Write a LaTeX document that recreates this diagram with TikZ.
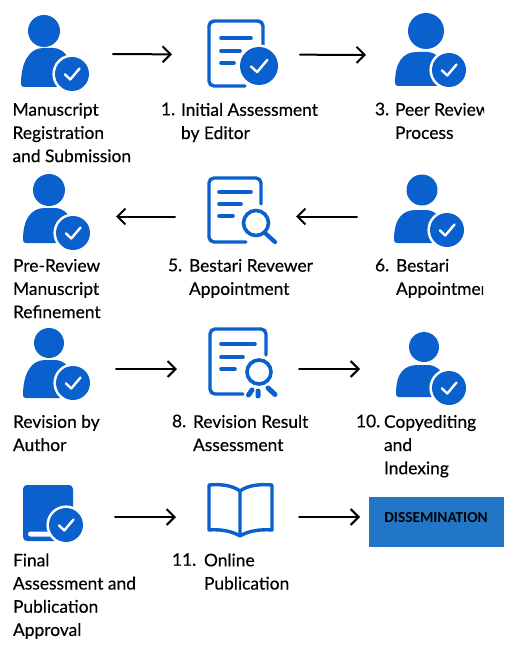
\documentclass[tikz,border=0pt]{standalone}
\usepackage{fontspec}
\setmainfont[FakeBold=0.35]{Lato}
\newfontfamily\boxfont{Carlito}
\usetikzlibrary{arrows.meta}
\definecolor{iconblue}{HTML}{0A60CC}
\definecolor{boxblue}{HTML}{2176C7}
\newcommand{\badgeicon}[3]{%
  \fill[white] (#1,#2) circle ({#3+2.6});
  \fill[iconblue] (#1,#2) circle (#3);
  \draw[white,line width=2.4pt,line cap=round,line join=round]
    ({#1-0.42*#3},{#2+0.02*#3}) -- ({#1-0.1*#3},{#2+0.32*#3}) -- ({#1+0.44*#3},{#2-0.32*#3});
}
% head x, y, r; body left, top, bottom; badge x, y
\newcommand{\personicon}[8]{%
  \fill[iconblue] (#1,#2) circle (#3);
  \fill[iconblue] ({#4+3},#6) .. controls (#4+1,#6) and (#4,{#6-1}) .. (#4,{#6-3})
      .. controls (#4,{#6-24}) and ({#4+8},#5) .. ({#4+22},#5)
      -- ({#4+32},#5) .. controls ({#4+42},#5) and ({#4+50},{#5+10}) .. ({#4+50},{#5+20})
      -- ({#4+50},#6) -- cycle;
  \badgeicon{#7}{#8}{17}
}
\tikzset{
  flow/.style={line width=2pt,black,line cap=round,-{Straight Barb[length=8pt,width=16pt,line width=2pt]}},
  iconbox/.style={inner sep=0pt,outer sep=0pt,minimum height=60pt},
  lbl/.style={anchor=north west,inner sep=0pt,outer sep=0pt,align=left,text=black,
    font=\fontsize{17.4}{23.2}\selectfont,execute at begin node=\strut},
  iconline/.style={iconblue,line width=3.4pt,line cap=round,line join=round},
  dissbox/.style={fill=boxblue,minimum width=135pt,minimum height=50pt,inner sep=0pt,outer sep=0pt}
}
\begin{document}
\begin{tikzpicture}[x=1pt,y=-1pt]
\useasboundingbox (0,0) rectangle (516,647);
\fill[white] (0,0) rectangle (516,647);

% icon anchors used by connectors
\node[iconbox,minimum width=93pt] (i1) at (66.5,54) {};
\node[iconbox,minimum width=128pt] (i2) at (236,54.5) {};
\node[iconbox,minimum width=60pt] (i3) at (396,55) {};
\node[iconbox,minimum width=60pt] (i4) at (86,216.5) {};
\node[iconbox,minimum width=121pt] (i5) at (235.5,216.5) {};
\node[iconbox,minimum width=60pt] (i6) at (387,216.5) {};
\node[iconbox,minimum width=60pt] (i7) at (86,369) {};
\node[iconbox,minimum width=122pt] (i8) at (238,369) {};
\node[iconbox,minimum width=60pt] (i9) at (390,369) {};
\node[iconbox,minimum width=60pt] (i10) at (85,517) {};
\node[iconbox,minimum width=123pt] (i11) at (237.5,517) {};

% row 1
\personicon{44}{31}{16}{21}{48}{87}{72}{74}
\draw[iconline] (245,86) -- (214,86) arc (90:180:5) -- (209,26) arc (180:270:5) -- (258,21) arc (270:360:5) -- (263,48);
\draw[iconblue,line width=3.6pt,line cap=round] (221,38) -- (251,38) (221,51) -- (240,51) (221,63) -- (234,63);
\badgeicon{259}{66}{19}
\personicon{426}{31}{18}{395}{52}{86}{449}{70}
% row 2
\personicon{49}{190}{16}{23}{208}{243}{73}{233}
\draw[iconline] (246,242) -- (214,242) arc (90:180:5) -- (209,183) arc (180:270:5) -- (256,178) arc (270:360:5) -- (261,204);
\draw[iconblue,line width=3.6pt,line cap=round] (219,192) -- (251,192) (219,204) -- (241,204) (219,216) -- (233,216);
\draw[iconblue,line width=3.6pt] (256,223) circle (12.5);
\draw[iconblue,line width=4.2pt,line cap=round] (265,233) -- (275,242);
\personicon{422}{190}{15.5}{394}{210}{243}{447}{230}
% row 3
\personicon{49}{343}{15}{23}{360}{398}{73}{383}
\draw[iconline] (243,394) -- (215,394) arc (90:180:5) -- (210,334) arc (180:270:5) -- (261,329) arc (270:360:5) -- (266,355);
\draw[iconblue,line width=3.6pt,line cap=round] (221,344) -- (255,344) (221,357) -- (243,357) (221,369) -- (235,369);
\draw[iconblue,line width=3.6pt] (259,372) circle (12);
\draw[iconblue,line width=5pt,line cap=round] (252,390) -- (248.5,395) (258,391) -- (258,396) (268,388) -- (275,394.5);
\personicon{424}{347}{15}{396}{365}{397}{449}{388}
% row 4
\fill[iconblue,rounded corners=4pt] (23,485) rectangle (73,541);
\fill[white,rounded corners=2.5pt] (28,531.5) rectangle (52,536.5);
\badgeicon{66}{525}{17}
\draw[iconline] (240,491) .. controls (232,485) and (220,484) .. (209,485) -- (209,530)
  .. controls (220,529) and (232,531) .. (240,536) .. controls (248,531) and (260,529) .. (272,530) -- (272,485)
  .. controls (260,484) and (248,485) .. (240,491) -- (240,536);

\node[dissbox] (diss) at (436.5,522) {};
\node[font=\boxfont\bfseries\fontsize{15.3}{18}\selectfont,text=black,inner sep=0pt] (disstext) at (436,518) {DISSEMINATION};

% connectors
\draw[flow] (i1) -- (i2);
\draw[flow] (i2) -- (i3);
\draw[flow] (i6) -- (i5);
\draw[flow] (i5) -- (i4);
\draw[flow] (i7) -- (i8);
\draw[flow] (i8) -- (i9);
\draw[flow] (i10) -- (i11);
\draw[flow,shorten >=9pt] (i11) -- (diss.west |- i11);

% labels
\node[lbl] (t1) at (12.5,103) {Manuscript\\Registration\\and Submission};
\node[lbl] (n2) at (161,99) {1.};
\node[lbl] (t2) at (181,103) {Initial Assessment\\by Editor};
\node[lbl] (n3) at (375,99) {3.};
\begin{scope}
  \clip (390,95) rectangle (484,150);
  \node[lbl] (t3) at (395,103) {Peer Review\\Process};
\end{scope}
\node[lbl] (t4) at (13,259) {Pre-Review\\Manuscript\\Refinement};
\node[lbl] (n5) at (168,255) {5.};
\node[lbl] (t5) at (189,259) {Bestari Revewer\\Appointment};
\node[lbl] (n6) at (375,255) {6.};
\begin{scope}
  \clip (390,250) rectangle (483,305);
  \node[lbl] (t6) at (396,259) {Bestari\\Appointment};
\end{scope}
\node[lbl] (t7) at (13,415) {Revision by\\Author};
\node[lbl] (n8) at (172,411) {8.};
\node[lbl] (t8) at (193,415) {Revision Result\\Assessment};
\node[lbl] (n9) at (356,411) {10.};
\node[lbl] (t9) at (384,415) {Copyediting\\and\\Indexing};
\node[lbl] (t10) at (13,553.5) {Final\\Assessment and\\Publication\\Approval};
\node[lbl] (n11) at (172,549.5) {11.};
\node[lbl] (t11) at (204,553.5) {Online\\Publication};
\end{tikzpicture}
\end{document}
